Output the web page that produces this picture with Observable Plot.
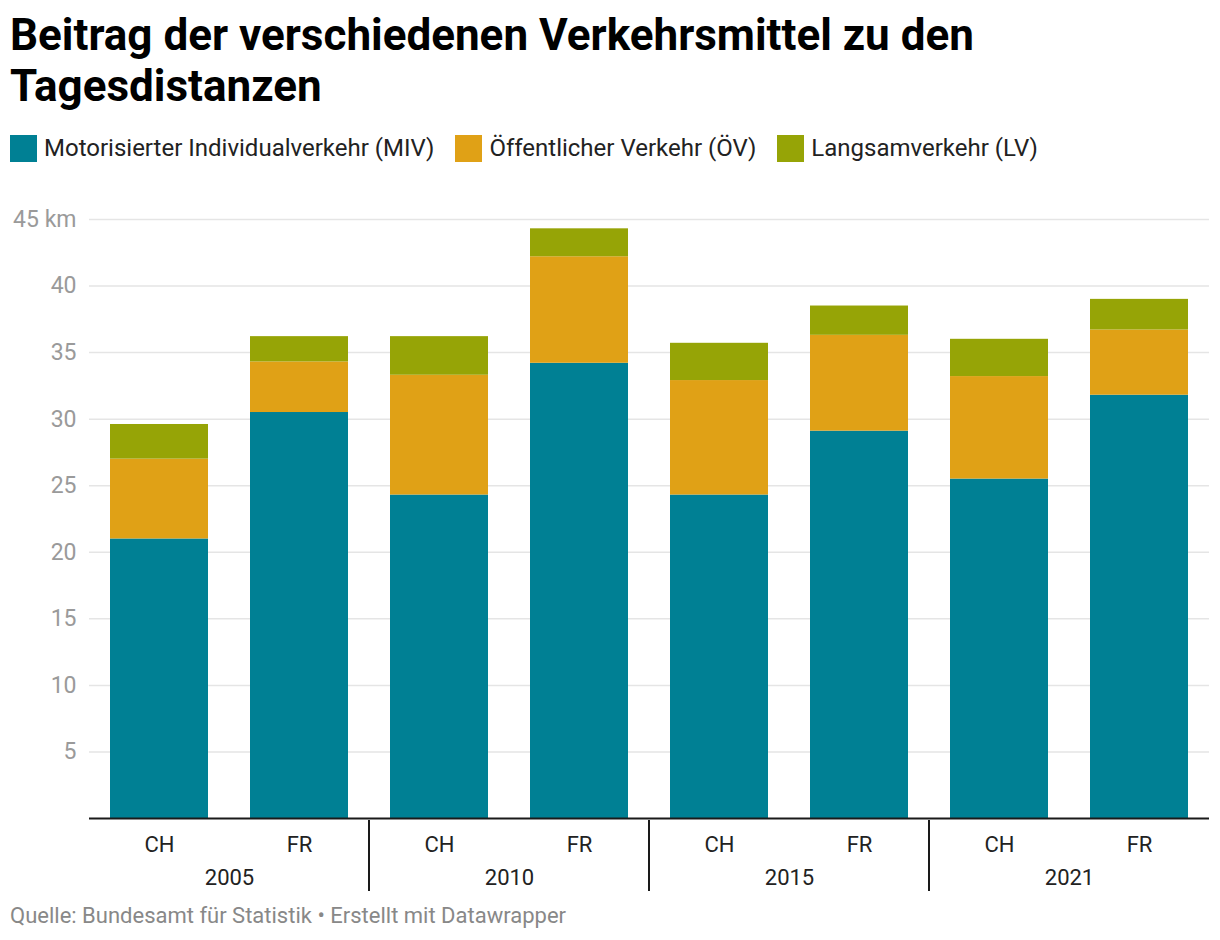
<!DOCTYPE html>
<html>
<head>
<meta charset="utf-8">
<script src="https://cdn.jsdelivr.net/npm/d3@7"></script>
<script src="https://cdn.jsdelivr.net/npm/@observablehq/plot@0.6"></script>
<style>
  html, body { margin: 0; padding: 0; background: #fff; }
  body { font-family: Roboto, "Noto Sans", sans-serif; width: 1220px; }
  #title { margin: 0; padding: 10px 10px 0 10px; font-size: 44px; font-weight: 700; line-height: 51px; color: #000; width: 1000px; }
  #legend { display: flex; gap: 21px; padding: 0 10px; margin-top: 22px; font-size: 24px; color: #222; align-items: center; height: 28px; }
  #legend .item { display: flex; align-items: center; gap: 7px; }
  #legend .sw { width: 27px; height: 27px; display: inline-block; }
  #chart { margin-top: 38px; line-height: 0; }
  #caption { padding: 0 10px; font-size: 22px; color: #888; margin-top: 8px; }
</style>
</head>
<body>
<div id="title">Beitrag der verschiedenen Verkehrsmittel zu den Tagesdistanzen</div>
<div id="legend"></div>
<div id="chart"></div>
<div id="caption">Quelle: Bundesamt für Statistik • Erstellt mit Datawrapper</div>
<script>
const years = ["2005", "2010", "2015", "2021"];
const countries = ["CH", "FR"];
const modes = ["Motorisierter Individualverkehr (MIV)", "Öffentlicher Verkehr (ÖV)", "Langsamverkehr (LV)"];
const colors = ["#008094", "#e0a116", "#96a406"];
// values per bar in order: 2005 CH, 2005 FR, 2010 CH, 2010 FR, 2015 CH, 2015 FR, 2021 CH, 2021 FR
const miv = [21.0, 30.5, 24.3, 34.2, 24.3, 29.1, 25.5, 31.8];
const ov  = [6.0, 3.8, 9.0, 8.0, 8.6, 7.2, 7.7, 4.9];
const lv  = [2.6, 1.9, 2.9, 2.1, 2.8, 2.2, 2.8, 2.3];
const yTicks = [5, 10, 15, 20, 25, 30, 35, 40, 45];

const series = [miv, ov, lv];
const data = [];
years.forEach((year, i) => {
  countries.forEach((country, j) => {
    const k = i * countries.length + j;
    modes.forEach((mode, m) => {
      data.push({year, country, mode, value: series[m][k]});
    });
  });
});

// legend
const legend = document.getElementById("legend");
modes.forEach((m, i) => {
  const it = document.createElement("div");
  it.className = "item";
  it.innerHTML = `<span class="sw" style="background:${colors[i]}"></span><span>${m}</span>`;
  legend.appendChild(it);
});

const plot = Plot.plot({
  width: 1220,
  height: 695,
  marginTop: 19,
  marginBottom: 77,
  marginLeft: 89,
  marginRight: 11,
  style: { fontFamily: "Roboto, sans-serif", background: "#fff" },
  fx: { domain: years, padding: 0, axis: null },
  x: { domain: countries, paddingInner: 0.3, paddingOuter: 0.15, axis: null },
  y: { domain: [0, 45], axis: null },
  color: { domain: modes, range: colors },
  marks: [
    Plot.gridY(yTicks, { stroke: "#e5e5e5", strokeOpacity: 1, strokeWidth: 1.5 }),
    Plot.axisY(yTicks, {
      tickSize: 0, tickPadding: 13, fontSize: 23, fill: "#9a9a9a",
      tickFormat: d => d === 45 ? "45 km" : String(d), label: null
    }),
    Plot.barY(data, Plot.stackY({ order: null }, { fx: "year", x: "country", y: "value", fill: "mode" })),
    Plot.ruleY([0], { stroke: "#1a1a1a", strokeWidth: 2 }),
    Plot.axisX({ anchor: "bottom", tickSize: 0, tickPadding: 18, fontSize: 22, fill: "#222", label: null }),
    Plot.axisFx({ anchor: "bottom", tickSize: 0, tickPadding: 51, fontSize: 22, fill: "#222", label: null })
  ]
});

// group separators at facet boundaries
const fx = plot.scale("fx");
const y = plot.scale("y");
const svg = d3.select(plot.tagName === "svg" ? plot : plot.querySelector("svg"));
const y0 = y.apply(0);
years.slice(1).forEach(yr => {
  const xp = fx.apply(yr);
  svg.append("line")
    .attr("x1", xp).attr("x2", xp)
    .attr("y1", y0 + 2).attr("y2", y0 + 73)
    .attr("stroke", "#1a1a1a").attr("stroke-width", 2);
});

document.getElementById("chart").appendChild(plot);
</script>
</body>
</html>
